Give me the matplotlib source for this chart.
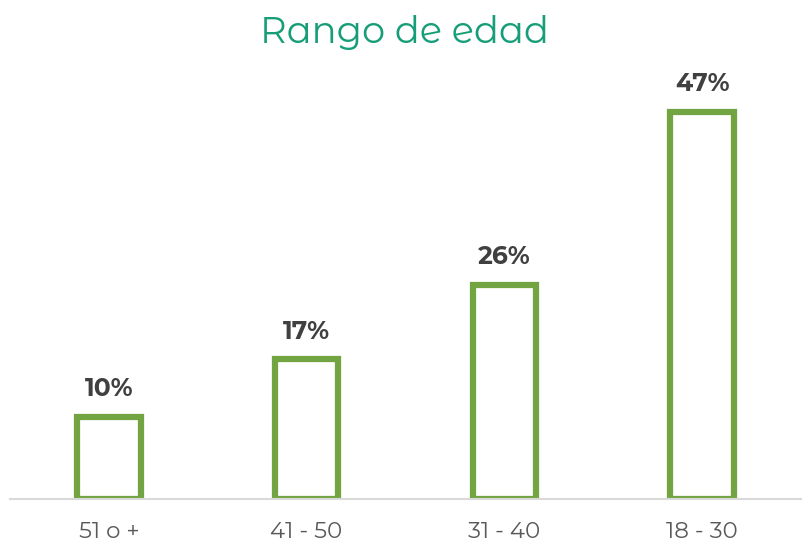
import matplotlib
matplotlib.use("Agg")
import matplotlib.pyplot as plt

categorias = ["51 o +", "41 - 50", "31 - 40", "18 - 30"]
porcentajes = [10, 17, 26, 47]

verde_barra = "#72a442"
verde_titulo = "#179e78"

plt.rcParams["font.family"] = ["Montserrat Alternates", "Open Sans", "DejaVu Sans"]

fig = plt.figure(figsize=(8.09, 5.6), dpi=100)
# base de las barras en y=499 px, 50% en la parte alta
ax = fig.add_axes([10 / 809, 61 / 560, 791 / 809, 412 / 560])

x = range(len(categorias))
ax.bar(x, porcentajes, width=0.32, facecolor="white", edgecolor=verde_barra,
       linewidth=4.5, zorder=3)

for i, v in zip(x, porcentajes):
    ax.annotate(f"{v}%", (i, v), xytext=(0, 11), textcoords="offset points",
                ha="center", va="bottom", fontsize=18, fontweight="bold",
                color="#404040")

ax.set_xlim(-0.5, len(categorias) - 0.5)
ax.set_ylim(0, 50)
ax.set_xticks(list(x))
ax.set_xticklabels(categorias, fontsize=16.5, color="#595959")
ax.tick_params(axis="x", length=0, pad=16)
ax.set_yticks([])
for s in ["top", "left", "right"]:
    ax.spines[s].set_visible(False)
ax.spines["bottom"].set_color("#d9d9d9")
ax.spines["bottom"].set_linewidth(1.5)
ax.spines["bottom"].set_zorder(4)

fig.text(0.5, 1 - 33 / 560, "Rango de edad", ha="center", va="center",
         fontsize=26.5, color=verde_titulo)

fig.savefig("out.png", dpi=100)
